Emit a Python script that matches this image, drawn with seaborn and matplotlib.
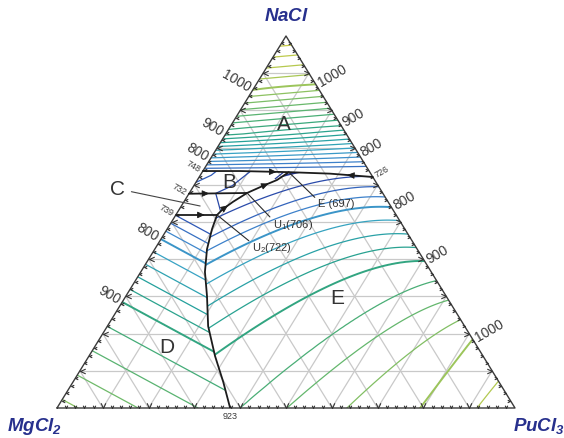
import numpy as np
import matplotlib
matplotlib.use("Agg")
import matplotlib.pyplot as plt
import matplotlib.tri as mtri
from matplotlib.patches import Polygon
from matplotlib.path import Path
import seaborn as sns

sns.set_theme(style="white")
plt.rcParams["font.family"] = ["Liberation Sans", "DejaVu Sans"]
plt.rcParams["mathtext.fontset"] = "custom"
plt.rcParams["mathtext.rm"] = "Liberation Sans"
plt.rcParams["mathtext.it"] = "Liberation Sans:italic"
plt.rcParams["mathtext.bf"] = "Liberation Sans:italic:bold"

# ---------------- data (mole fractions x_NaCl, x_PuCl3; T in K) ----------------
# ternary invariant points
inv_names = ["E ", "U$_1$", "U$_2$"]
inv_T = [697, 706, 722]
inv_na = [0.634, 0.578, 0.519]
inv_pu = [0.189, 0.126, 0.090]

# MgCl2-PuCl3 binary eutectic
eut_T = 923
eut_pu = 0.378

# monovariant troughs: 923 eutectic -> U2 (with temperatures), U2 -> U1, U1 -> E
de_na = [0.000, 0.070, 0.140, 0.220, 0.301, 0.366, 0.427, 0.481, 0.519]
de_pu = [0.378, 0.328, 0.275, 0.220, 0.177, 0.140, 0.114, 0.098, 0.090]
de_T = [923, 914, 901, 873, 838, 811, 772, 735, 722]
ce_na = [0.519, 0.535, 0.554, 0.578]
ce_pu = [0.090, 0.095, 0.107, 0.126]
be_na = [0.578, 0.597, 0.613, 0.634]
be_pu = [0.126, 0.151, 0.174, 0.189]

# NaCl primary-field boundary: NaCl-MgCl2 edge (748) -> E -> NaCl-PuCl3 edge (726)
an_na = [0.637, 0.637, 0.634, 0.630, 0.621]
an_pu = [0.000, 0.081, 0.189, 0.281, 0.379]

# B/C and C/D boundaries (from the NaCl-MgCl2 edge to U1 and U2)
bc_na = [0.576, 0.578]
bc_pu = [0.000, 0.126]
cd_na = [0.519, 0.519]
cd_pu = [0.000, 0.090]

# NaCl field: liquidus along both NaCl edges
a_left_na = [0.637, 0.669, 0.737, 0.855, 1.0]
a_left_T = [748, 800, 900, 1000, 1074]
a_right_na = [0.621, 0.683, 0.763, 0.870, 1.0]
a_right_T = [726, 800, 900, 1000, 1074]
# PuCl3 field: NaCl-PuCl3 edge, and isotherm ends on the MgCl2-PuCl3 edge (x_MgCl2)
e_edge_T = [726, 800, 900, 1000, 1041]
e_edge_na = [0.621, 0.540, 0.395, 0.185, 0.0]
e_base_T = [925, 950, 975, 1000, 1025, 1041]
e_base_mg = [0.600, 0.498, 0.367, 0.207, 0.083, 0.0]
# MgCl2 field: NaCl-MgCl2 edge liquidus
d_edge_na = [0.0, 0.285, 0.454, 0.519]
d_edge_T = [987, 900, 800, 739]

# edge temperature labels
left_lab_T = [1000, 900, 800, 800, 900]
left_lab_na = [0.855, 0.737, 0.669, 0.454, 0.285]
left_small_T = [748, 732, 739]
left_small_na = [0.637, 0.576, 0.519]
right_lab_T = [1000, 900, 800, 800, 900, 1000]
right_lab_na = [0.870, 0.763, 0.683, 0.540, 0.395, 0.185]
right_small_T = [726]
right_small_na = [0.621]

# primary phase field letters (plot coordinates)
field_names = ["A", "B", "D", "E"]
field_x = [0.496, 0.376, 0.240, 0.611]
field_y = [0.766, 0.608, 0.164, 0.298]

# isotherm spacing per primary field (K)
step_A, step_E, step_D = 15, 25, 20
iso_colors = ["#22348f", "#2d55b5", "#3f86cc", "#38a3c4", "#23a09a",
              "#34a67e", "#5db56f", "#8fc360", "#b5c950", "#cccc45"]


def to_xy(na, pu):
    na = np.asarray(na, float)
    pu = np.asarray(pu, float)
    return pu + 0.5 * na, na


def lin(x, xp, fp):
    """Piecewise-linear interpolation, continued linearly past both ends."""
    xp = np.asarray(xp, float)
    fp = np.asarray(fp, float)
    x = np.asarray(x, float)
    y = np.interp(x, xp, fp)
    y = np.where(x < xp[0], fp[0] + (x - xp[0]) * (fp[1] - fp[0]) / (xp[1] - xp[0]), y)
    y = np.where(x > xp[-1], fp[-1] + (x - xp[-1]) * (fp[-1] - fp[-2]) / (xp[-1] - xp[-2]), y)
    return y


def solve_T(u, s, far, near, t0, t1):
    """Temperature of the isotherm u = (1-s)*far(T) + s*near(T) through each point."""
    lo = np.full(u.shape, float(t0))
    hi = np.full(u.shape, float(t1))
    for _ in range(30):
        mid = 0.5 * (lo + hi)
        hot = u < (1 - s) * far(mid) + s * near(mid)
        lo = np.where(hot, mid, lo)
        hi = np.where(hot, hi, mid)
    return 0.5 * (lo + hi)


# ---------------- figure ----------------
fig = plt.figure(figsize=(5.64, 4.39), dpi=100)
ax = fig.add_axes([57 / 564, 30 / 439, 458 / 564, 372 / 439])
ax.set_xlim(0, 1)
ax.set_ylim(0, 1)
ax.axis("off")

# composition grid (10 %)
gcol = "#c9c9c9"
for k in range(1, 10):
    f = k / 10
    ax.plot([0.5 * f, 1 - 0.5 * f], [f, f], color=gcol, lw=0.9, zorder=1)
    ax.plot([f, f + 0.5 * (1 - f)], [0, 1 - f], color=gcol, lw=0.9, zorder=1)
    ax.plot([1 - f, 0.5 * (1 - f)], [0, 1 - f], color=gcol, lw=0.9, zorder=1)

# liquidus fields on a grid
gx, gy = np.meshgrid(np.linspace(-0.01, 1.01, 520), np.linspace(-0.01, 1.01, 520))
g_na = np.clip(gy, 0, 1)
g_pu = np.clip(gx - 0.5 * gy, 0, 1)
g_mg = np.clip(1 - g_na - g_pu, 0, 1)

# NaCl field: blend of the two edge liquidus curves
r = np.clip(g_pu / np.maximum(g_pu + g_mg, 1e-6), 0, 1)
T_A = (1 - r) * np.interp(g_na, a_left_na, a_left_T) + r * np.interp(g_na, a_right_na, a_right_T)

# PuCl3 field: isotherms run from the NaCl-PuCl3 edge towards the MgCl2 side,
# passing through the trough points of equal temperature
ur = lambda T: lin(T, e_edge_T, e_edge_na)
tr_na = np.array(de_na + [inv_na[1], inv_na[0]])
tr_pu = np.array(de_pu + [inv_pu[1], inv_pu[0]])
tr_T = np.array(de_T + [inv_T[1], inv_T[0]], float)
tr_u = 1 - tr_pu
tr_s = tr_na / tr_u
tr_far = (tr_u - tr_s * ur(tr_T)) / (1 - tr_s)
eb_T = np.concatenate([tr_T, e_base_T]).astype(float)
eb_u = np.concatenate([tr_far, e_base_mg])
o = np.argsort(eb_T)
eb_T, eb_u = eb_T[o], np.minimum.accumulate(eb_u[o])
ub = lambda T: lin(T, eb_T, eb_u)
sE = g_na / np.maximum(g_na + g_mg, 1e-6)
T_E = solve_T(g_na + g_mg, sE, ub, ur, 690, 1041)

# MgCl2 field: isotherms roughly normal to the NaCl-MgCl2 edge
p_proj = g_na + 0.5 * g_pu
T_D = np.interp(p_proj, d_edge_na + [inv_na[2] + 0.5 * inv_pu[2]], d_edge_T + [inv_T[2]])

cmap = sns.blend_palette(iso_colors, as_cmap=True)
norm = plt.Normalize(695, 1070)

# region outlines in plot coordinates
X = lambda na, pu: np.column_stack(to_xy(na, pu))
A_line = X(an_na, an_pu)
reg_A = np.vstack([[0.5, 1.0], A_line])
reg_E = np.vstack([X(de_na, de_pu), X(ce_na, ce_pu), X(be_na, be_pu), A_line[3:], [1.0, 0.0]])
reg_D = np.vstack([[0.0, 0.0], X(de_na, de_pu), X([cd_na[0]], [0])])
reg_C = np.vstack([X([cd_na[0]], [0]), X(ce_na, ce_pu), X([bc_na[0]], [0])])
reg_B = np.vstack([X([bc_na[0]], [0]), X(be_na, be_pu), A_line[1::-1]])

for field, reg, lv in [(T_A, reg_A, np.arange(760, 1066, step_A)),
                       (T_E, reg_E, np.arange(700, 1036, step_E)),
                       (T_D, reg_D, np.arange(740, 986, step_D))]:
    lws = [1.4 if v % 100 == 0 else 0.9 for v in lv]
    cs = ax.contour(gx, gy, field, levels=lv, cmap=cmap, norm=norm,
                    linewidths=lws, zorder=2)
    cs.set_clip_path(Polygon(reg, closed=True, transform=ax.transData))

# small B and C fields
for pts_na, pts_pu, pts_T, reg in [
    ([an_na[0], bc_na[0], inv_na[1], inv_na[0]], [0, 0, inv_pu[1], inv_pu[0]],
     [a_left_T[0], 732, inv_T[1], inv_T[0]], reg_B),
    ([bc_na[0], cd_na[0], inv_na[2], inv_na[1]], [0, 0, inv_pu[2], inv_pu[1]],
     [732, d_edge_T[-1], inv_T[2], inv_T[1]], reg_C),
]:
    tx, ty = to_xy(pts_na, pts_pu)
    tri = mtri.Triangulation(tx, ty)
    cs = ax.tricontour(tri, pts_T, levels=[700, 720, 740], cmap=cmap, norm=norm,
                       linewidths=0.9, zorder=2)
    cs.set_clip_path(Polygon(reg, closed=True, transform=ax.transData))

# triangle outline
ax.plot([0, 1, 0.5, 0], [0, 0, 1, 0], color="#3a3a3a", lw=1.0, zorder=4, clip_on=False)

# edge ticks (arrow-head shaped, every 2 %)
codes = [Path.MOVETO, Path.LINETO, Path.LINETO]
chev_b = Path([(-0.45, 1.0), (0, 0), (0.45, 1.0)], codes)
chev_l = Path([(1.0, 0.45), (0, 0), (1.0, -0.45)], codes)
chev_r = Path([(-1.0, 0.45), (0, 0), (-1.0, -0.45)], codes)
fr = np.arange(1, 50) * 0.02
major = np.isclose((fr * 10) % 1, 0) | np.isclose((fr * 10) % 1, 1)
for sel, ms in [(major, 7.5), (~major, 4.0)]:
    f = fr[sel]
    kw = dict(ls="none", ms=ms, mec="#333333", mfc="none", mew=0.8, zorder=5, clip_on=False)
    ax.plot(f, np.zeros_like(f), marker=chev_b, **kw)
    ax.plot(0.5 * f, f, marker=chev_l, **kw)
    ax.plot(1 - 0.5 * f, f, marker=chev_r, **kw)

# boundary curves
bcol = "#1c1c1c"
for na, pu in [(de_na, de_pu), (ce_na, ce_pu), (be_na, be_pu), (an_na, an_pu),
               (bc_na, bc_pu), (cd_na, cd_pu)]:
    bx, by = to_xy(na, pu)
    sns.lineplot(x=bx, y=by, sort=False, estimator=None, color=bcol, lw=1.3,
                 ax=ax, zorder=6)


def arrow_on(na, pu, i, t):
    px, py = to_xy(na, pu)
    hx = px[i] + t * (px[i + 1] - px[i])
    hy = py[i] + t * (py[i + 1] - py[i])
    d = np.array([px[i + 1] - px[i], py[i + 1] - py[i]])
    d = d / np.hypot(*d) * 0.012
    ax.annotate("", xy=(hx, hy), xytext=(hx - d[0], hy - d[1]),
                arrowprops=dict(arrowstyle="-|>,head_length=0.55,head_width=0.25",
                                color=bcol, lw=0.6, mutation_scale=8,
                                shrinkA=0, shrinkB=0), zorder=7)


arrow_on(an_na, an_pu, 1, 0.75)
arrow_on(an_na[::-1], an_pu[::-1], 0, 0.6)
arrow_on(bc_na, bc_pu, 0, 0.35)
arrow_on(cd_na, cd_pu, 0, 0.7)
arrow_on(ce_na, ce_pu, 1, 0.5)
arrow_on(be_na, be_pu, 1, 0.4)

# edge temperature labels
tcol = "#3a3a3a"
nl = np.array([-0.852, 0.524]) * 2.5
nr = np.array([0.852, 0.524]) * 2.5
for vals, nas, fs in [(left_lab_T, left_lab_na, 10), (left_small_T, left_small_na, 6.5)]:
    for v, na in zip(vals, nas):
        ax.annotate(str(v), xy=to_xy(na, 0), xytext=nl, textcoords="offset points",
                    rotation=-30, rotation_mode="anchor", ha="right", va="center",
                    fontsize=fs, color=tcol, zorder=8)
for vals, nas, fs in [(right_lab_T, right_lab_na, 10), (right_small_T, right_small_na, 6.5)]:
    for v, na in zip(vals, nas):
        ax.annotate(str(v), xy=to_xy(na, 1 - na), xytext=nr, textcoords="offset points",
                    rotation=30, rotation_mode="anchor", ha="left", va="center",
                    fontsize=fs, color=tcol, zorder=8)
ax.annotate(str(eut_T), xy=to_xy(0, eut_pu), xytext=(0, -2), textcoords="offset points",
            ha="center", va="top", fontsize=6.5, color=tcol)

# invariant point labels with leader lines
lab_x = [0.570, 0.472, 0.426]
lab_y = [0.551, 0.495, 0.433]
for n, t, na, pu, lx, ly in zip(inv_names, inv_T, inv_na, inv_pu, lab_x, lab_y):
    ax.annotate(f"{n}({t})", xy=to_xy(na, pu), xytext=(lx, ly), ha="left", va="center",
                fontsize=8, color="#333333", zorder=8,
                arrowprops=dict(arrowstyle="-", color="#2a2a2a", lw=0.8,
                                shrinkA=0, shrinkB=0, relpos=(0, 0.75)))

# phase field letters
for n, fx, fy in zip(field_names, field_x, field_y):
    ax.text(fx, fy, n, ha="center", va="center", fontsize=15, color="#333333", zorder=8)
ax.annotate("C", xy=to_xy(0.543, 0.041), xytext=(0.133, 0.589), ha="center", va="center",
            fontsize=15, color="#333333", zorder=8,
            arrowprops=dict(arrowstyle="-", color="#444444", lw=0.8, shrinkA=2, shrinkB=0))

# component names
ccol = "#27308d"
ax.text(0.502, 1.054, r"$\mathbf{NaCl}$", ha="center", va="center", fontsize=13.5, color=ccol)
ax.text(-0.048, -0.046, r"$\mathbf{MgCl_2}$", ha="center", va="center", fontsize=13.5, color=ccol)
ax.text(1.052, -0.046, r"$\mathbf{PuCl_3}$", ha="center", va="center", fontsize=13.5, color=ccol)

fig.savefig("out.png", dpi=100, facecolor="white")
